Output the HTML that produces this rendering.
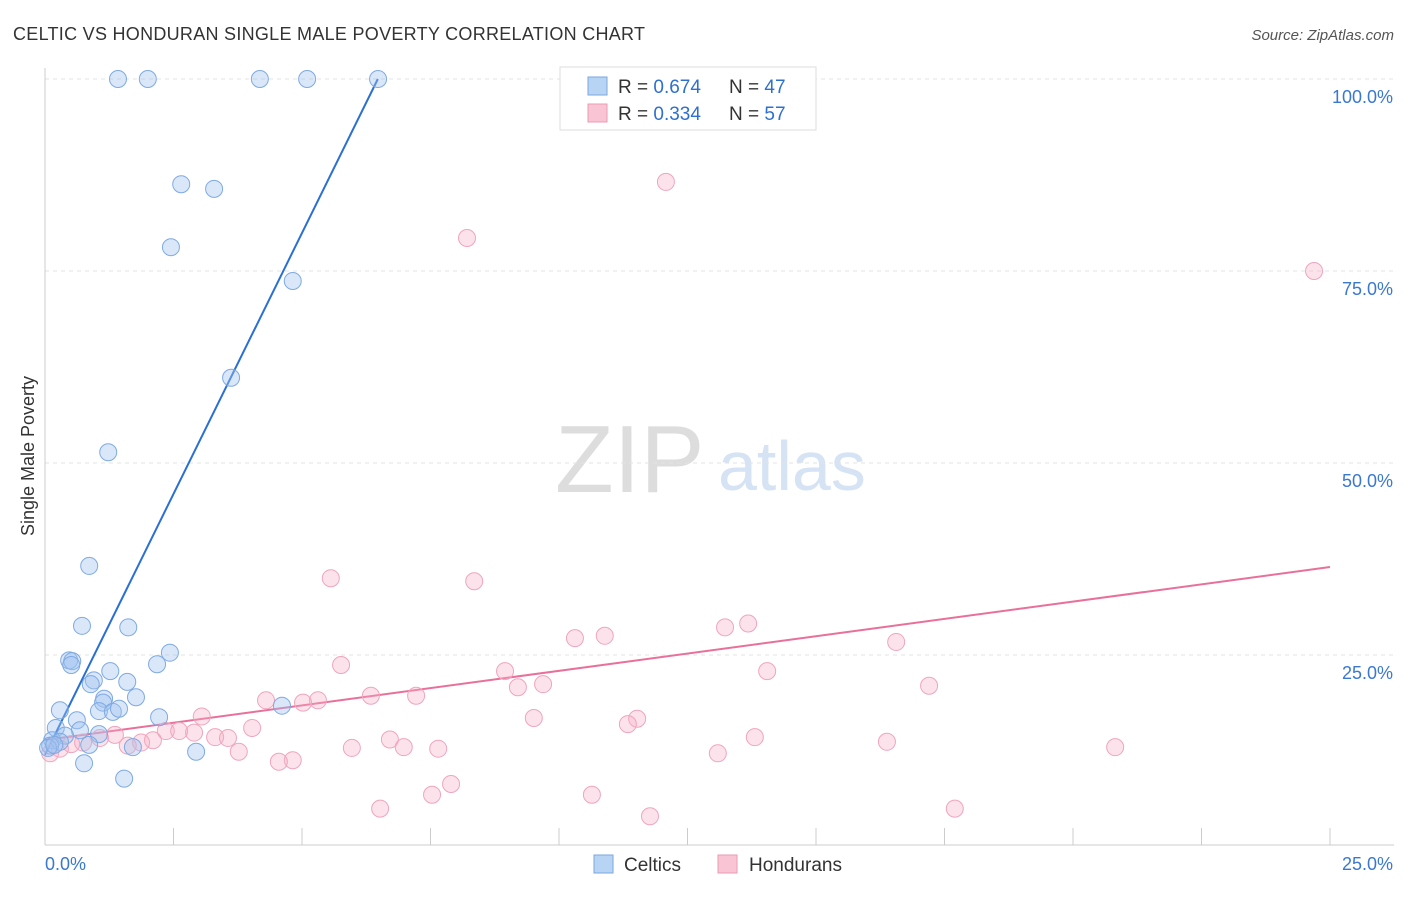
<!DOCTYPE html>
<html><head><meta charset="utf-8"><style>
body{margin:0;background:#fff;font-family:"Liberation Sans",sans-serif;}
svg text{font-family:"Liberation Sans",sans-serif;}
</style></head><body>
<svg width="1406" height="892" viewBox="0 0 1406 892">
<text x="13" y="40" font-size="18" fill="#333" textLength="632">CELTIC VS HONDURAN SINGLE MALE POVERTY CORRELATION CHART</text>
<text x="1394" y="40" font-size="15" fill="#555" font-style="italic" text-anchor="end">Source: ZipAtlas.com</text>
<text transform="translate(34,456) rotate(-90)" font-size="18" fill="#333" text-anchor="middle">Single Male Poverty</text>
<g>
<text x="555" y="492" font-size="96" fill="#ddd" font-family="Liberation Serif">ZIP</text>
<text x="718" y="490" font-size="70" fill="#d5e3f5">atlas</text>
</g>
<g id="grid"></g>
<g id="axes"></g>
<g id="lines"></g>
<g id="pts"></g>
<g>
<rect x="560" y="67" width="256" height="63" fill="#fff" stroke="#ddd"/>
<rect x="588" y="77" width="19" height="18" fill="#b8d4f5" stroke="#7aa7e0"/>
<rect x="588" y="104" width="19" height="18" fill="#f9c5d5" stroke="#eb9ab3"/>
<text x="618" y="93" font-size="19" fill="#333">R = <tspan fill="#2f6fd0">0.674</tspan></text>
<text x="729" y="93" font-size="19" fill="#333">N = <tspan fill="#2f6fd0">47</tspan></text>
<text x="618" y="120" font-size="19" fill="#333">R = <tspan fill="#2f6fd0">0.334</tspan></text>
<text x="729" y="120" font-size="19" fill="#333">N = <tspan fill="#2f6fd0">57</tspan></text>
</g>
<g>
<rect x="594" y="855" width="19" height="18" fill="#b8d4f5" stroke="#7aa7e0"/>
<text x="624" y="871" font-size="19" fill="#333">Celtics</text>
<rect x="718" y="855" width="19" height="18" fill="#f9c5d5" stroke="#eb9ab3"/>
<text x="749" y="871" font-size="19" fill="#333">Hondurans</text>
</g>
</svg>
<script>
const yTicks=[25,50,75,100];
const yTickLabels=["25.0%","50.0%","75.0%","100.0%"];
const xTickLabels=["0.0%","25.0%"];
const celticsX=[1.42,2.00,4.18,5.10,6.48,2.65,3.29,2.45,4.82,3.62,1.23,0.86,0.72,1.62,0.47,0.53,0.51,2.43,2.18,1.27,0.95,0.89,1.60,1.77,1.15,1.13,1.05,1.32,1.44,4.61,2.22,0.29,0.62,0.21,0.68,0.39,0.14,1.05,0.86,0.29,0.10,1.71,2.94,0.76,1.54,0.06,0.18];
const celticsY=[100,100,100,100,100,86.3,85.7,78.1,73.7,61.1,51.4,36.6,28.8,28.6,24.3,24.2,23.7,25.3,23.8,22.9,21.7,21.2,21.5,19.5,19.3,18.8,17.7,17.6,18.0,18.4,16.9,17.8,16.5,15.5,15.2,14.5,13.9,14.7,13.3,13.7,13.2,13.0,12.4,10.9,8.9,12.9,13.3];
const hondX=[12.08,8.21,24.69,5.56,8.35,13.23,13.68,10.31,10.89,16.56,5.76,8.95,14.05,9.69,9.20,17.2,4.30,5.31,5.02,6.34,7.22,3.05,9.51,11.52,11.34,2.35,2.61,4.03,2.90,3.31,3.56,1.36,1.07,2.10,1.61,1.87,0.74,0.51,6.71,6.98,13.81,16.38,20.82,5.97,7.65,3.77,13.09,4.82,4.55,7.90,10.64,7.53,6.52,17.70,11.77,0.10,0.29];
const hondY=[86.6,79.3,75.0,35.0,34.6,28.6,29.1,27.2,27.5,26.7,23.7,22.9,22.9,21.2,20.8,21.0,19.1,19.1,18.8,19.7,19.7,17.0,16.8,16.7,16.0,15.1,15.1,15.5,14.9,14.3,14.2,14.6,14.2,13.9,13.2,13.6,13.6,13.4,14.0,13.0,14.3,13.7,13.0,12.9,12.8,12.4,12.2,11.3,11.1,8.2,6.8,6.8,5.0,5.0,4.0,12.2,12.8];
const celticsFit=[12.0,13.59];
const hondFit=[13.93,0.901];
const NS='http://www.w3.org/2000/svg';
const X=v=>45+v/25*1285, Y=v=>847-v*7.68;
function mk(t,a,p){const e=document.createElementNS(NS,t);for(const k in a)e.setAttribute(k,a[k]);p.appendChild(e);return e;}
const grid=document.getElementById('grid'),axes=document.getElementById('axes');
yTicks.forEach((t,i)=>{
 const l=mk('line',{x1:45,x2:1394,y1:Y(t),y2:Y(t),stroke:'#e3e3e3','stroke-dasharray':'4,4'},grid);
 
 
 const tx=mk('text',{x:1393,y:Y(t)+24,'font-size':18,fill:'#3a78d0','text-anchor':'end'},axes);
 tx.textContent=yTickLabels[i];
 
 
});
let a=mk('line',{x1:45,x2:45,y1:68,y2:845,stroke:'#ccc'},axes);


a=mk('line',{x1:45,x2:1394,y1:845,y2:845,stroke:'#ccc'},axes);


for(let i=0;i<=10;i++){const t=mk('line',{x1:X(i*2.5),x2:X(i*2.5),y1:828,y2:845,stroke:'#ccc'},axes);
 
 }
[[0,45,'start'],[25,1393,'end']].forEach((d,i)=>{const t=mk('text',{x:d[1],y:870,'font-size':18,fill:'#3a78d0','text-anchor':d[2]},axes);
 t.textContent=xTickLabels[i];
 
 });
const pts=document.getElementById('pts');
hondX.forEach((x,i)=>{const c=mk('circle',{cx:X(x),cy:Y(hondY[i]),r:8.5,fill:'rgba(246,175,198,0.35)',stroke:'#f0a5bd','stroke-width':1},pts);
 
 });
celticsX.forEach((x,i)=>{const c=mk('circle',{cx:X(x),cy:Y(celticsY[i]),r:8.5,fill:'rgba(160,196,240,0.4)',stroke:'#7eaae3','stroke-width':1},pts);
 
 });
const lines=document.getElementById('lines');
const xe=(100-celticsFit[0])/celticsFit[1];
let ln=mk('line',{x1:X(0),y1:Y(celticsFit[0]),x2:X(xe),y2:Y(100),stroke:'#2a6fd6','stroke-width':2},lines);


ln=mk('line',{x1:X(0),y1:Y(hondFit[0]),x2:X(25),y2:Y(hondFit[0]+25*hondFit[1]),stroke:'#e8709a','stroke-width':2},lines);


</script>
</body></html>
